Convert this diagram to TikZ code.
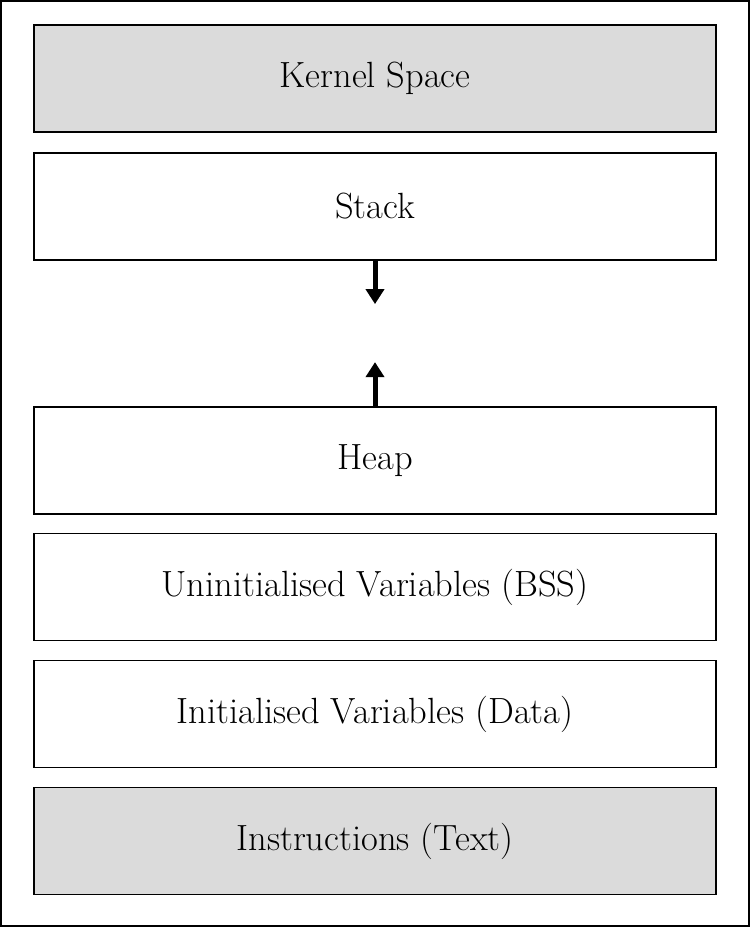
\documentclass[tikz,border=0pt]{standalone}
\usetikzlibrary{positioning,arrows.meta}
\tikzset{
    seg/.style={draw, line width=0.8pt, minimum width=13.64cm, minimum height=2.14cm,
        inner sep=0pt, font=\huge},
    kern/.style={seg, fill=black!14},
    growarrow/.style={line width=0.1cm, -{Triangle[length=0.3cm,width=0.36cm]}}
}
\begin{document}
\begin{tikzpicture}
    \useasboundingbox (0,0) rectangle (15,-18.54);
    \draw [line width=0.04cm] (0.02,-0.02) rectangle (14.98,-18.52);
    \node[kern] (kernel) at (7.5,-1.57) {Kernel Space};
    \node[seg, below=0.39cm of kernel] (stack) {Stack};
    \node[seg, below=2.91cm of stack] (heap) {Heap};
    \node[seg, below=0.37cm of heap] (bss) {Uninitialised Variables (BSS)};
    \node[seg, below=0.37cm of bss] (data) {Initialised Variables (Data)};
    \node[kern, below=0.37cm of data] (text) {Instructions (Text)};
    \coordinate (stacktop) at ([yshift=-0.87cm]stack.south);
    \coordinate (heaptop) at ([yshift=0.88cm]heap.north);
    \draw [growarrow] (stack.south) -- (stacktop);
    \draw [growarrow] (heap.north) -- (heaptop);
\end{tikzpicture}
\end{document}
